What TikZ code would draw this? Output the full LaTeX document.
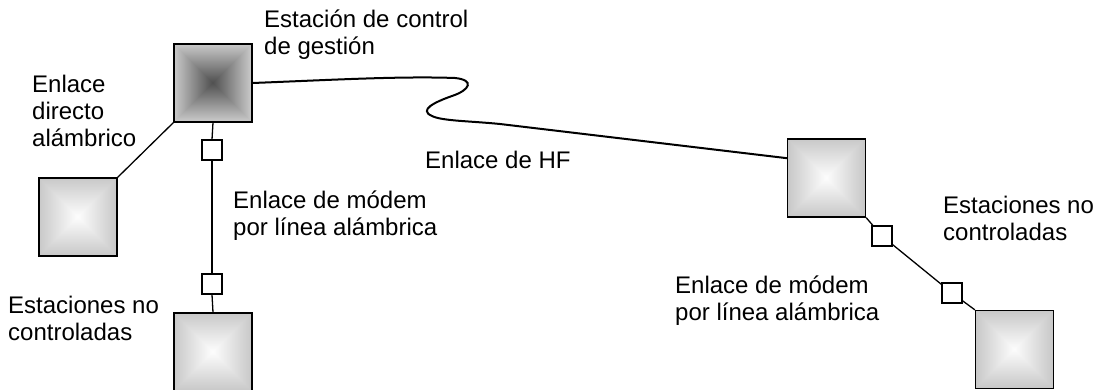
\documentclass[tikz,border=0pt]{standalone}
\usepackage{fontspec}
\setmainfont{Liberation Sans}
\usetikzlibrary{calc}
\tikzset{
  lbl/.style={anchor=base west, inner sep=0pt, align=left, font=\fontsize{24}{27}\selectfont},
  station/.style 2 args={draw, line width=1.3pt, minimum size=78pt, inner sep=0pt,
    path picture={
      \foreach \k in {0,...,39}{
        \pgfmathsetmacro{\p}{#1+(#2-#1)*\k/39}
        \pgfmathsetmacro{\s}{39.5*(1-\k/40)}
        \fill[black!\p] ([shift={(-\s pt,-\s pt)}]path picture bounding box.center)
          rectangle ([shift={(\s pt,\s pt)}]path picture bounding box.center);
      }}},
  modem/.style={draw, fill=white, line width=1.3pt, minimum size=20pt, inner sep=0pt},
  wire/.style={line width=1.3pt},
  hf/.style={line width=2pt},
}
\begin{document}
\begin{tikzpicture}[x=1pt,y=-1pt]
\useasboundingbox (0,0) rectangle (1099,390);
% stations
\node[station={20}{68}] (main) at (213,83) {};
\node[station={22}{1}] (lb) at (78,217) {};
\node[station={22}{1}] (bl) at (213,352) {};
\node[station={22}{1}] (hfr) at (826.5,178) {};
\node[station={22}{1}] (rl) at (1014.5,349.5) {};
% modems
\node[modem] (m1) at (212,150) {};
\node[modem] (m2) at (212,284) {};
\node[modem] (m3) at (882,236) {};
\node[modem] (m4) at (952,293) {};
% connectors
\draw[wire] (main.south) -- (m1.north);
\draw[wire] (m1.south) -- (m2.north);
\draw[wire] (m2.south) -- (bl.north);
\draw[wire] (lb.north east) -- (main.south west);
\draw[wire] (hfr.south east) -- (m3);
\draw[wire] (m3) -- (m4);
\draw[wire] (m4) -- (rl.north west);
\coordinate (hfend) at ($(hfr.north west)!0.25!(hfr.south west)$);
\draw[hf] (main.east) .. controls (330,80) and (400,76) .. (455,78)
  .. controls (475,80) and (470,90) .. (452,96)
  .. controls (435,102) and (418,110) .. (432,116)
  .. controls (442,121) and (470,121) .. (500,124) -- (hfend);
% labels (anchored at the baseline of the last line)
\node[lbl] (t1) at (264,55) {Estación de control\\de gestión};
\node[lbl] (t2) at (32,147) {Enlace\\directo\\alámbrico};
\node[lbl] (t3) at (233,235) {Enlace de módem\\por línea alámbrica};
\node[lbl] (t4) at (8,340) {Estaciones no\\controladas};
\node[lbl] (t5) at (425,168) {Enlace de HF};
\node[lbl] (t6) at (675,320) {Enlace de módem\\por línea alámbrica};
\node[lbl] (t7) at (943,240) {Estaciones no\\controladas};
\end{tikzpicture}
\end{document}
